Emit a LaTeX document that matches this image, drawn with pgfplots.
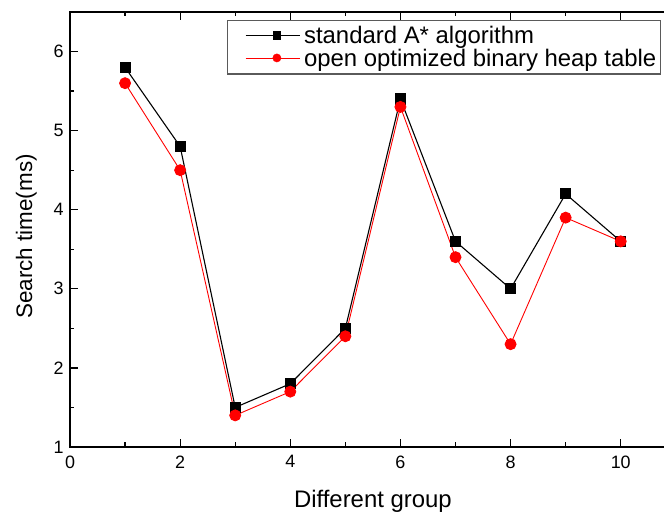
\documentclass[border=0pt]{standalone}
\usepackage{fontspec}
\setmainfont{Liberation Sans}
\usepackage{pgfplots}
\pgfplotsset{compat=1.18}
\begin{document}
\begin{tikzpicture}
\begin{axis}[
  at={(70bp,66bp)}, anchor=south west,
  scale only axis,
  width=605.8bp, height=435bp,
  xmin=0, xmax=11, ymin=1, ymax=6.5,
  xtick={0,2,4,6,8,10},
  minor xtick={1,3,5,7,9,11},
  ytick={1,2,3,4,5,6},
  minor ytick={1.5,2.5,3.5,4.5,5.5,6.5},
  tick align=inside,
  major tick length=8bp,
  minor tick length=4.5bp,
  every tick/.style={black, line width=1.2bp},
  axis line style={line width=1.5bp},
  /pgf/number format/assume math mode=true,
  ticklabel style={font=\fontsize{18}{21}\selectfont},
  xticklabel style={yshift=-5bp},
  yticklabel style={xshift=-3bp},
  xlabel={Different group},
  ylabel={Search time(ms)},
  xlabel style={font=\fontsize{24}{28}\selectfont, at={(axis description cs:0.5,-0.1402)}, anchor=base},
  ylabel style={font=\fontsize{22.5}{27}\selectfont, at={(axis description cs:-0.0627,0.484)}, anchor=base, rotate=0},
  legend style={
    at={(axis description cs:0.259,0.982)}, anchor=north west,
    draw={rgb,255:red,90;green,90;blue,90}, line width=1.3bp,
    font=\fontsize{24}{28}\selectfont,
    inner xsep=2bp, inner ysep=4bp,
    row sep=0bp,
    /tikz/every odd column/.append style={column sep=2bp},
  },
  legend cell align=left,
  legend image code/.code={
    \path[draw=none,fill=none] (0bp,-1bp) rectangle (70bp,1bp);
    \draw (16bp,0bp) -- (70bp,0bp);
    \path[draw=none] (43bp,0bp) node[inner sep=0pt] {\tikz\path[every mark/.append style={scale=0.75}] plot coordinates {(0,0)};};
  },
]
\addplot[black, line width=1.1bp, mark=square*, mark size=5bp, mark options={solid, fill=black}]
coordinates {(1,5.8) (2,4.8) (3,1.5) (4,1.8) (5,2.5) (6,5.4) (7,3.6) (8,3.0) (9,4.2) (10,3.6)};
\addlegendentry{standard A* algorithm}
\addplot[red, line width=0.9bp, mark=*, mark size=5.5bp, mark options={solid, fill=red, draw=red}]
coordinates {(1,5.6) (2,4.5) (3,1.4) (4,1.7) (5,2.4) (6,5.3) (7,3.4) (8,2.3) (9,3.9) (10,3.6)};
\addlegendentry{open optimized binary heap table}
\end{axis}
\pgfresetboundingbox
\useasboundingbox (0,0) rectangle (664bp,513bp);
\end{tikzpicture}
\end{document}
